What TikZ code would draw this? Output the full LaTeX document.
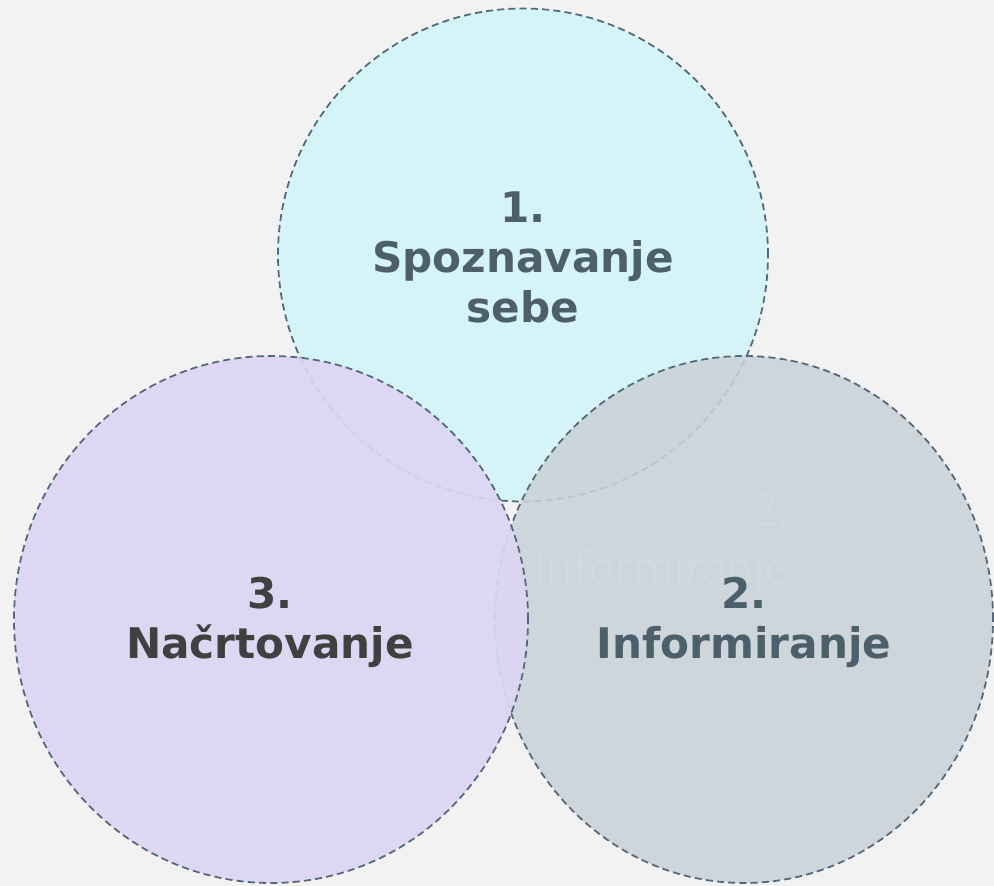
\documentclass[tikz,border=0pt]{standalone}
\usepackage{fontspec}
\setmainfont{DejaVu Sans}
\newfontfamily\ghostfont{Open Sans}
\usepackage{tikz}

\definecolor{backcol}{HTML}{F2F2F2}
\definecolor{selfcol}{HTML}{D5F4F7}
\definecolor{infocol}{HTML}{CAD2D8}
\definecolor{plancol}{HTML}{DDD5F4}
\definecolor{edgecol}{HTML}{55677A}
\definecolor{labcol}{HTML}{4E5F6C}
\definecolor{darkcol}{HTML}{404040}
\definecolor{ghostcol}{HTML}{D3DADF}

\begin{document}
\begin{tikzpicture}[
    ring/.style={draw=edgecol, line width=1pt, dash pattern=on 4pt off 2.4pt},
    lab/.style={align=center, font=\bfseries\fontsize{24}{28.5}\selectfont, text=labcol}
  ]
    \fill[backcol] (0,0) rectangle (19.88,17.72);
    \useasboundingbox (0,0) rectangle (19.88,17.72);
    % circles: self, info, plan
    \path[ring, fill=selfcol] (10.46,12.62) ellipse (4.90 and 4.93);
    \path[ring, fill=infocol, fill opacity=0.88] (14.88,5.33) ellipse (4.98 and 5.27);
    \node[align=right, text=ghostcol, font=\ghostfont\fontsize{25}{33}\selectfont] (ghost) at (13.24,6.84) {2.\\Informiranje};
    \path[ring, fill=plancol, fill opacity=0.92] (5.42,5.33) ellipse (5.14 and 5.27);
    % labels
    \node[lab] (self) at (10.46,12.57) {1.\\Spoznavanje\\sebe};
    \node[lab] (info) at (14.88,5.27) {2.\\Informiranje};
    \node[lab, text=darkcol] (plan) at (5.40,5.27) {3.\\Načrtovanje};
\end{tikzpicture}
\end{document}
